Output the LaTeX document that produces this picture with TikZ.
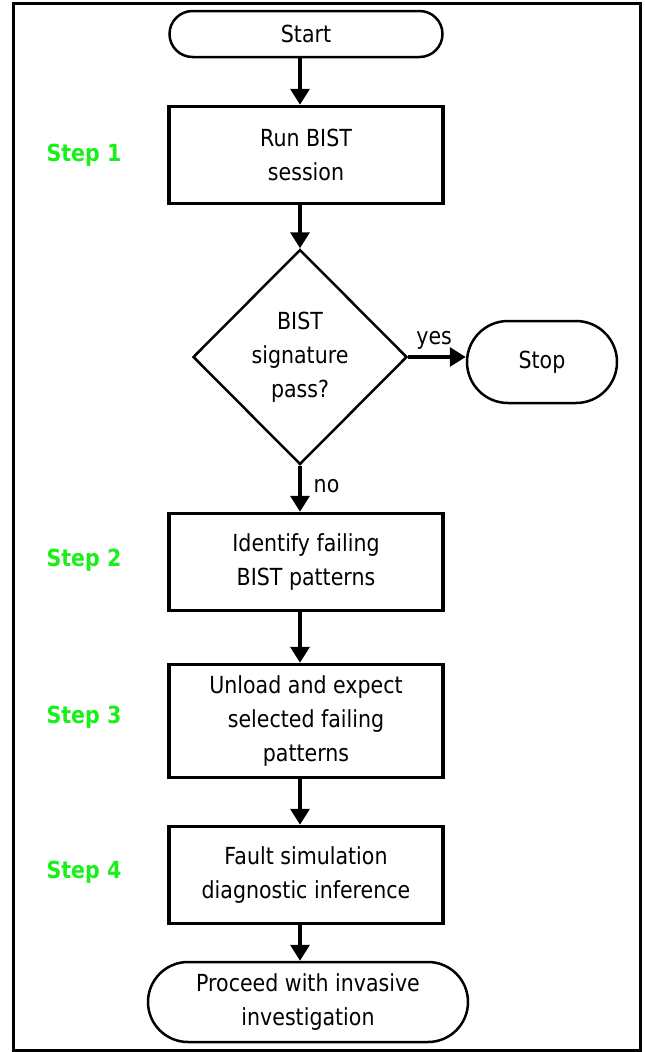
\documentclass[tikz,border=0pt]{standalone}
\usepackage{fontspec}
\setmainfont[FakeStretch=0.875]{DejaVu Sans}
\definecolor{stepgreen}{HTML}{19F019}
\usetikzlibrary{arrows.meta,shapes.geometric,shapes.misc}
\newcommand\flowfont{\fontsize{23.5bp}{34bp}\selectfont}
\tikzset{
  box/.style={draw,line width=3.5bp,rectangle,align=center,minimum width=274bp,
              inner sep=0pt,font=\flowfont},
  term/.style={draw,line width=2.5bp,rounded rectangle,align=center,inner sep=0pt,
               font=\flowfont},
  dec/.style={draw,line width=2.5bp,diamond,aspect=1,align=center,inner sep=0pt,
              minimum width=214bp,minimum height=215bp,font=\flowfont},
  steplbl/.style={text=stepgreen,font=\flowfont\bfseries},
  arr/.style={-{Triangle[length=16bp,width=19bp]},line width=3.5bp},
  lbl/.style={font=\flowfont,inner sep=1pt}
}
\begin{document}
\begin{tikzpicture}[x=1bp,y=-1bp]
    \useasboundingbox (0,0) rectangle (645,1052);
    \draw[line width=3bp] (13,3) rectangle (640,1050);
    \node[term,minimum width=273bp,minimum height=46bp] (st) at (306,34) {Start};
    \node[box,minimum height=97bp] (b1) at (306,155) {Run BIST\\session};
    \node[dec] (d1) at (300,357) {BIST\\signature\\pass?};
    \node[term,minimum width=150bp,minimum height=82bp] (sp) at (542,362) {Stop};
    \node[box,minimum height=97bp] (b2) at (306,562) {Identify failing\\BIST patterns};
    \node[box,minimum height=113bp] (b3) at (306,721) {Unload and expect\\selected failing\\patterns};
    \node[box,minimum height=97bp] (b4) at (306,875) {Fault simulation\\diagnostic inference};
    \node[term,minimum width=320bp,minimum height=80bp] (en) at (308,1002) {Proceed with invasive\\investigation};
    \node[steplbl] (s1) at (84,155) {Step 1};
    \node[steplbl] (s2) at (84,560) {Step 2};
    \node[steplbl] (s3) at (84,717) {Step 3};
    \node[steplbl] (s4) at (84,872) {Step 4};
    \draw[arr] (st.south -| d1) -- (b1.north -| d1);
    \draw[arr] (b1.south -| d1) -- (d1.north);
    \draw[arr] (d1.east) -- node[lbl,above=5bp,pos=.45]{yes} (d1.east -| sp.west);
    \draw[arr] (d1.south) -- node[lbl,right=11bp,pos=.45]{no} (b2.north -| d1);
    \draw[arr] (b2.south -| d1) -- (b3.north -| d1);
    \draw[arr] (b3.south -| d1) -- (b4.north -| d1);
    \draw[arr] (b4.south -| d1) -- (en.north -| d1);
  \end{tikzpicture}
\end{document}
